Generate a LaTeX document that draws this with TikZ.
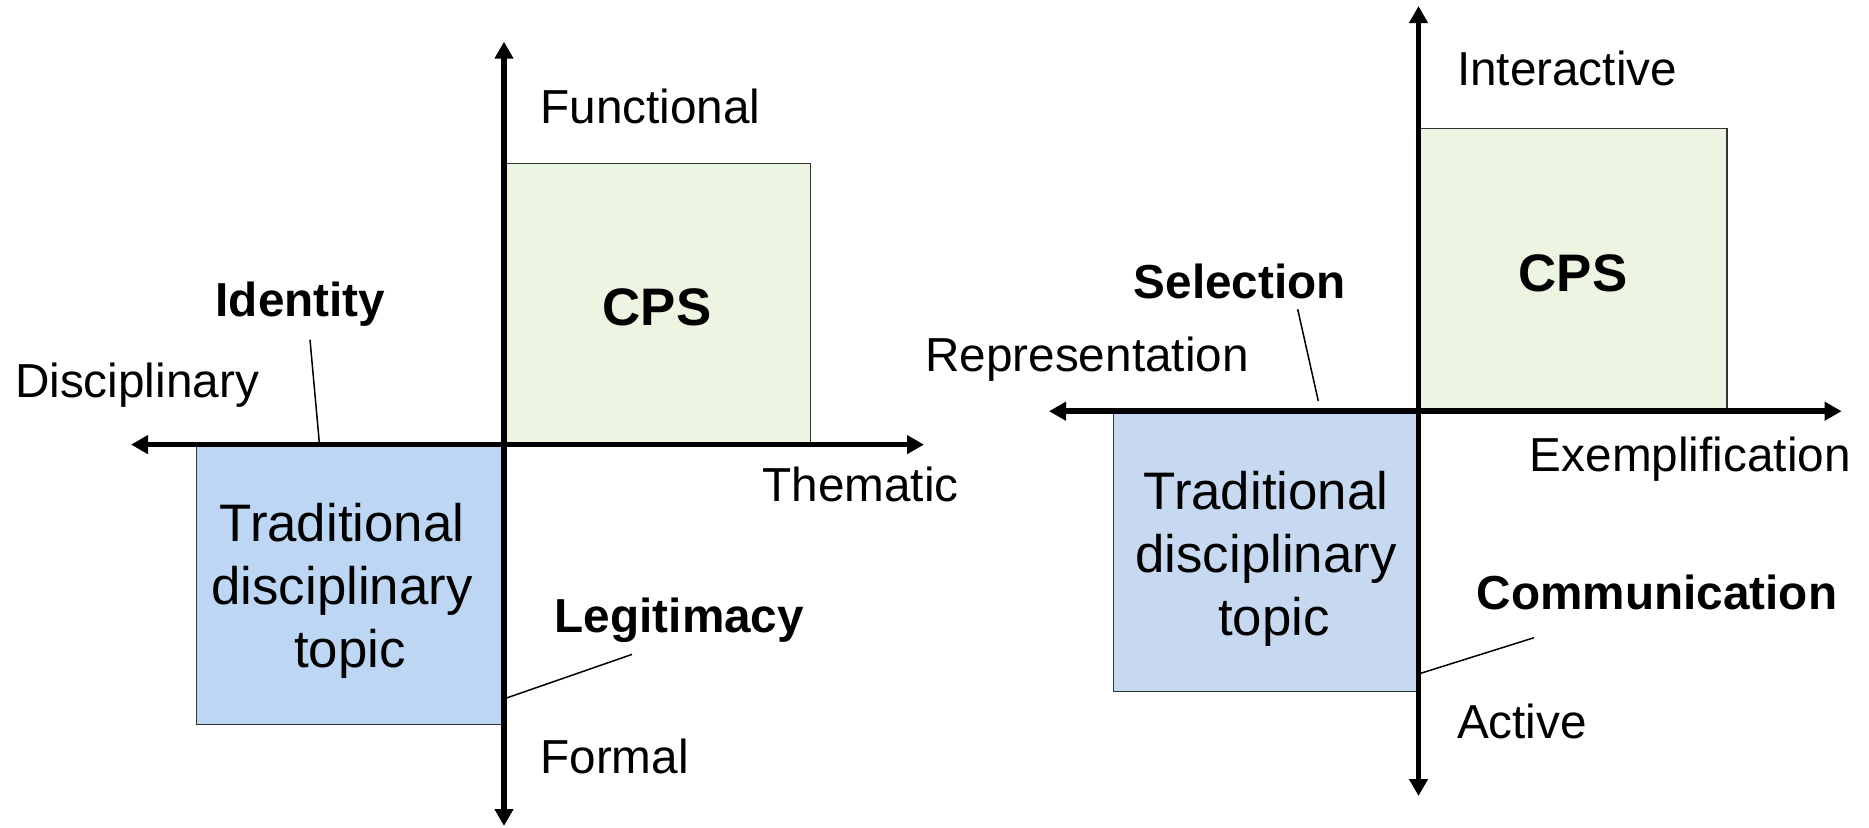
\documentclass[tikz,border=0pt]{standalone}
\usepackage{fontspec}
\setmainfont{Liberation Sans}
\usetikzlibrary{arrows.meta}
\definecolor{cpsgreen}{HTML}{EBF5E1}
\definecolor{tradblueL}{HTML}{BDD6F4}
\definecolor{tradblueR}{HTML}{C6D9F1}
\tikzset{
  axis/.style={line width=2.75pt,-{Triangle[length=8.5pt,width=9pt]}},
  quadbox/.style={draw=black!80,line width=0.75pt},
  callout/.style={line width=0.75pt},
  lbl/.style={inner sep=0pt,font=\fontsize{23.85}{28.6}\selectfont},
  blbl/.style={lbl,font=\fontsize{23.85}{28.6}\selectfont\bfseries},
  boxtxt/.style={inner sep=0pt,align=center,font=\fontsize{26.4}{31.5}\selectfont},
  cpstxt/.style={inner sep=0pt,font=\fontsize{26.4}{31.5}\selectfont\bfseries}
}
\begin{document}
\begin{tikzpicture}[x=0.5pt,y=-0.5pt]
\useasboundingbox (0,0) rectangle (1869,827);

% ---------- left quadrant diagram ----------
\coordinate (LO) at (504,444.6);
\coordinate (Lup) at (504,41.7);
\coordinate (Ldown) at (504,826);
\coordinate (Lleft) at (131,444.6);
\coordinate (Lright) at (924,444.6);

\path[quadbox,fill=cpsgreen] (504,163.3) rectangle (810.6,444.6);
\path[quadbox,fill=tradblueL] (196.7,444.6) rectangle (504,724.7);

\draw[axis] (LO) -- (Lup);
\draw[axis] (LO) -- (Ldown);
\draw[axis] (LO) -- (Lleft);
\draw[axis] (LO) -- (Lright);

\node[lbl,anchor=base west] (functional) at (540,123) {Functional};
\node[lbl,anchor=base west] (formal) at (540,773) {Formal};
\node[lbl,anchor=base] (disciplinary) at (137,397) {Disciplinary};
\node[lbl,anchor=base] (thematic) at (860.6,501) {Thematic};
\node[cpstxt,anchor=base] (cpsL) at (657,325) {CPS};
\node[boxtxt] (tradL) at (342,591) {Traditional\\disciplinary\\\hspace*{8pt}topic};
\node[blbl,anchor=base] (identity) at (300.4,316) {Identity};
\node[blbl,anchor=base] (legitimacy) at (679.4,632) {Legitimacy};

\coordinate (idA) at (310,339.7);
\coordinate (idB) at (319.5,444.6);
\draw[callout] (idA) -- (idB);
\coordinate (legA) at (632,654.4);
\coordinate (legB) at (505,698.5);
\draw[callout] (legA) -- (legB);

% ---------- right quadrant diagram ----------
\coordinate (RO) at (1418.5,411.2);
\coordinate (Rup) at (1418.5,6);
\coordinate (Rdown) at (1418.5,796);
\coordinate (Rleft) at (1049,411.2);
\coordinate (Rright) at (1841.6,411.2);

\path[quadbox,fill=cpsgreen] (1418.5,128.7) rectangle (1727.2,411.2);
\path[quadbox,fill=tradblueR] (1113.3,411.2) rectangle (1418.5,691.4);

\draw[axis] (RO) -- (Rup);
\draw[axis] (RO) -- (Rdown);
\draw[axis] (RO) -- (Rleft);
\draw[axis] (RO) -- (Rright);

\node[lbl,anchor=base west] (interactive) at (1456.6,85) {Interactive};
\node[lbl,anchor=base west] (active) at (1456.6,738) {Active};
\node[lbl,anchor=base] (representation) at (1087,371) {Representation};
\node[lbl,anchor=base] (exemplification) at (1690.3,471) {Exemplification};
\node[cpstxt,anchor=base] (cpsR) at (1573,291) {CPS};
\node[boxtxt] (tradR) at (1266,558.5) {Traditional\\disciplinary\\\hspace*{8pt}topic};
\node[blbl,anchor=base] (selection) at (1239.7,298) {Selection};
\node[blbl,anchor=base] (communication) at (1657,609) {Communication};

\coordinate (selA) at (1297.7,309.3);
\coordinate (selB) at (1318.3,401);
\draw[callout] (selA) -- (selB);
\coordinate (comA) at (1534,637.7);
\coordinate (comB) at (1420,673.5);
\draw[callout] (comA) -- (comB);
\end{tikzpicture}
\end{document}
